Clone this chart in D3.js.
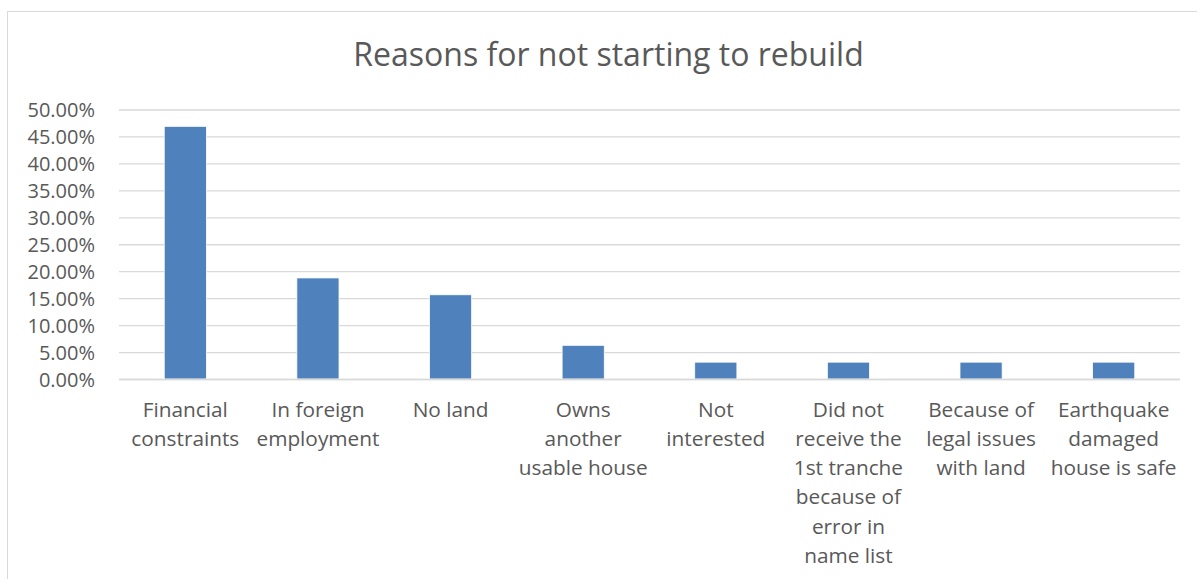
<!DOCTYPE html>
<html>
<head>
<meta charset="utf-8">
<script src="https://cdn.jsdelivr.net/npm/d3@7"></script>
<style>
  html, body { margin: 0; padding: 0; background: #fff; }
  svg { display: block; }
  text { font-family: "Open Sans", Lato, sans-serif; fill: #595959; }
</style>
</head>
<body>
<svg id="chart" width="1197" height="579"></svg>
<script>
// Reasons for not starting to rebuild (share of respondents)
const categories = [
  "Financial\nconstraints",
  "In foreign\nemployment",
  "No land",
  "Owns\nanother\nusable house",
  "Not\ninterested",
  "Did not\nreceive the\n1st tranche\nbecause of\nerror in\nname list",
  "Because of\nlegal issues\nwith land",
  "Earthquake\ndamaged\nhouse is safe"
];
const shares = [0.46875, 0.1875, 0.15625, 0.0625, 0.03125, 0.03125, 0.03125, 0.03125];
const yTicks = [0, 0.05, 0.10, 0.15, 0.20, 0.25, 0.30, 0.35, 0.40, 0.45, 0.50];
const title = "Reasons for not starting to rebuild";

const W = 1197, H = 579;
const plot = { left: 119, right: 1180, top: 109.5, bottom: 379 };
const FONT = "'Open Sans', Lato, sans-serif";

const svg = d3.select("#chart");

// chart frame
svg.append("rect")
  .attr("x", 7.5).attr("y", 11.5)
  .attr("width", W).attr("height", H)
  .attr("fill", "none").attr("stroke", "#d9d9d9").attr("stroke-width", 1);

const x = d3.scaleBand().domain(categories).range([plot.left, plot.right]).padding(0);
const y = d3.scaleLinear().domain([0, 0.5]).range([plot.bottom, plot.top]);

// gridlines and value axis labels
const yAxis = d3.axisLeft(y)
  .tickValues(yTicks)
  .tickFormat(d3.format(".2%"))
  .tickSize(-(plot.right - plot.left))
  .tickPadding(24);

const gy = svg.append("g")
  .attr("transform", `translate(${plot.left},0)`)
  .call(yAxis);
gy.select(".domain").remove();
gy.selectAll(".tick line").attr("stroke", "#d9d9d9").attr("stroke-width", 1.3);
gy.selectAll(".tick text")
  .attr("font-size", 20)
  .attr("dy", "0.36em")
  .style("font-family", FONT)
  .attr("fill", "#595959");

// bars
const barW = x.bandwidth() * 0.318;
svg.append("g").selectAll("rect")
  .data(categories.map((c, i) => ({ c, v: shares[i] })))
  .join("rect")
  .attr("x", d => x(d.c) + (x.bandwidth() - barW) / 2)
  .attr("y", d => y(d.v))
  .attr("width", barW)
  .attr("height", d => y(0) - y(d.v))
  .attr("fill", "#4f81bd")
  .attr("stroke", "#ffffff")
  .attr("stroke-width", 0.8);

// category axis line
svg.append("line")
  .attr("x1", plot.left).attr("x2", plot.right)
  .attr("y1", y(0) + 0.5).attr("y2", y(0) + 0.5)
  .attr("stroke", "#d9d9d9").attr("stroke-width", 1.3);

// wrapped category labels
const lbl = svg.append("g").selectAll("text")
  .data(categories)
  .join("text")
  .attr("text-anchor", "middle")
  .attr("font-size", 20.8)
  .attr("transform", d => `translate(${x(d) + x.bandwidth() / 2},${plot.bottom + 37.5})`);
lbl.selectAll("tspan")
  .data(d => d.split("\n"))
  .join("tspan")
  .attr("x", 0)
  .attr("y", (d, i) => i * 29.3)
  .text(d => d);

// title
svg.append("text")
  .attr("x", 608.5).attr("y", 65.7)
  .attr("text-anchor", "middle")
  .attr("font-size", 32)
  .text(title);
</script>
</body>
</html>
